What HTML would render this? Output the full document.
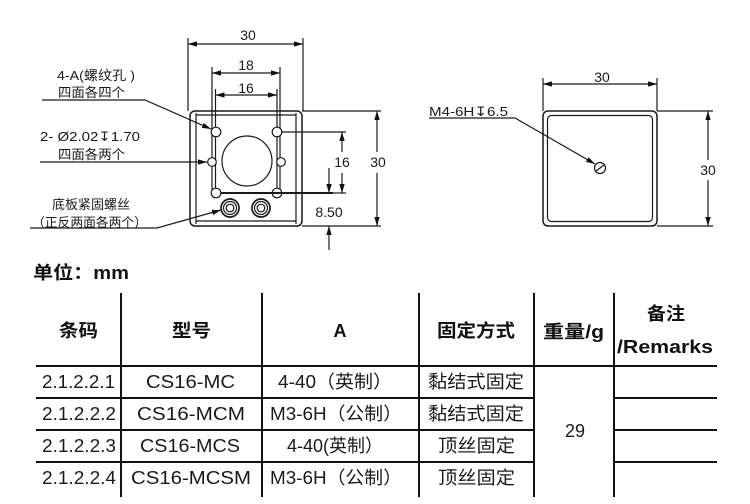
<!DOCTYPE html>
<html><head><meta charset="utf-8">
<style>
html,body{margin:0;padding:0;background:#fff;}
svg{display:block;}
.d{font-family:"Liberation Sans","Noto Sans CJK SC",sans-serif;font-size:13px;fill:#1a1a1a;}
.n{font-family:"Liberation Sans","Noto Sans CJK SC",sans-serif;font-size:14px;fill:#1a1a1a;}
.t{font-family:"Liberation Sans","Noto Sans CJK SC",sans-serif;font-size:18px;fill:#1a1a1a;}
.b{font-family:"Liberation Sans","Noto Sans CJK SC",sans-serif;font-size:18px;font-weight:bold;fill:#111;}
</style></head>
<body>
<svg width="750" height="504" viewBox="0 0 750 504" xmlns="http://www.w3.org/2000/svg">
<defs>
<marker id="a" viewBox="0 0 10 6" refX="10" refY="3" markerWidth="9" markerHeight="5.4" markerUnits="userSpaceOnUse" orient="auto-start-reverse">
<path d="M0,0L10,3L0,6z" fill="#111"/>
</marker>
</defs>
<rect width="750" height="504" fill="#fff"/>

<!-- LEFT VIEW -->
<g stroke="#1a1a1a" fill="none" stroke-width="1.2">
  <rect x="190" y="111" width="112" height="115" rx="5" stroke-width="1.5"/>
  <line x1="196" y1="113" x2="196" y2="224"/>
  <line x1="296" y1="113" x2="296" y2="224"/>
  <line x1="196" y1="115" x2="296" y2="115"/>
  <line x1="196" y1="221" x2="296" y2="221"/>
  <line x1="188" y1="38" x2="188" y2="111"/>
  <line x1="303" y1="38" x2="303" y2="111"/>
  <line x1="212" y1="67" x2="212" y2="190"/>
  <line x1="280" y1="67" x2="280" y2="190"/>
  <line x1="215.5" y1="89" x2="215.5" y2="190"/>
  <line x1="277" y1="89" x2="277" y2="190"/>
  <line x1="188" y1="44" x2="303" y2="44" marker-start="url(#a)" marker-end="url(#a)"/>
  <line x1="212" y1="73" x2="280" y2="73" marker-start="url(#a)" marker-end="url(#a)"/>
  <line x1="215.5" y1="95" x2="277" y2="95" marker-start="url(#a)" marker-end="url(#a)"/>
  <circle cx="216" cy="132" r="4.8" fill="#fff"/>
  <circle cx="277" cy="132" r="4.8" fill="#fff"/>
  <circle cx="212" cy="162" r="4.3" fill="#fff"/>
  <circle cx="281" cy="162" r="4.3" fill="#fff"/>
  <circle cx="216" cy="193" r="4.8" fill="#fff"/>
  <circle cx="277" cy="193" r="4.8" fill="#fff"/>
  <circle cx="247" cy="161" r="25"/>
  <circle cx="230" cy="208" r="9" stroke-width="1.7"/>
  <circle cx="230" cy="208" r="6.5"/>
  <circle cx="230" cy="208" r="3.8"/>
  <circle cx="261" cy="208" r="9" stroke-width="1.7"/>
  <circle cx="261" cy="208" r="6.5"/>
  <circle cx="261" cy="208" r="3.8"/>
  <line x1="281" y1="132" x2="346" y2="132"/>
  <line x1="221" y1="193" x2="333" y2="193" stroke-width="2"/>
  <line x1="333" y1="193" x2="346" y2="193"/>
  <line x1="302" y1="111" x2="381" y2="111"/>
  <line x1="302" y1="226" x2="381" y2="226"/>
  <line x1="342" y1="152" x2="342" y2="132" marker-end="url(#a)"/>
  <line x1="342" y1="173" x2="342" y2="193" marker-end="url(#a)"/>
  <line x1="377" y1="152" x2="377" y2="111" marker-end="url(#a)"/>
  <line x1="377" y1="173" x2="377" y2="226" marker-end="url(#a)"/>
  <line x1="329" y1="168" x2="329" y2="193" marker-end="url(#a)"/>
  <line x1="329" y1="250" x2="329" y2="226" marker-end="url(#a)"/>
  <polyline points="42,100 145,100 211,129" marker-end="url(#a)"/>
  <line x1="40" y1="162" x2="207" y2="162" marker-end="url(#a)"/>
  <polyline points="30,228 157,228 221,210" marker-end="url(#a)"/>
</g>
<g class="n">
  <text x="248" y="40" text-anchor="middle">30</text>
  <text x="246" y="70" text-anchor="middle">18</text>
  <text x="246" y="93" text-anchor="middle">16</text>
  <text x="342" y="167" text-anchor="middle">16</text>
  <text x="378" y="167" text-anchor="middle">30</text>
  <text x="329" y="217" text-anchor="middle">8.50</text>
</g>
<g class="d">
  <text x="57" y="80" textLength="78" lengthAdjust="spacingAndGlyphs">4-A(螺纹孔 )</text>
  <text x="58" y="97" textLength="67" lengthAdjust="spacingAndGlyphs">四面各四个</text>
  <text x="40" y="141" textLength="100" lengthAdjust="spacingAndGlyphs">2- Ø2.02↧1.70</text>
  <text x="58" y="159" textLength="67" lengthAdjust="spacingAndGlyphs">四面各两个</text>
  <text x="52" y="209" textLength="78" lengthAdjust="spacingAndGlyphs">底板紧固螺丝</text>
  <text x="32" y="227" textLength="115" lengthAdjust="spacingAndGlyphs">（正反两面各两个）</text>
</g>

<!-- RIGHT VIEW -->
<g stroke="#1a1a1a" fill="none" stroke-width="1.2">
  <rect x="543" y="111" width="114" height="115" rx="5" stroke-width="1.5"/>
  <rect x="547.5" y="115.5" width="105" height="106" rx="4"/>
  <line x1="543" y1="78" x2="543" y2="111"/>
  <line x1="657" y1="78" x2="657" y2="111"/>
  <line x1="543" y1="84" x2="657" y2="84" marker-start="url(#a)" marker-end="url(#a)"/>
  <line x1="657" y1="111" x2="713" y2="111"/>
  <line x1="657" y1="226" x2="713" y2="226"/>
  <line x1="708" y1="160" x2="708" y2="111" marker-end="url(#a)"/>
  <line x1="708" y1="180" x2="708" y2="226" marker-end="url(#a)"/>
  <circle cx="600" cy="168" r="5.5" fill="#fff"/>
  <line x1="596" y1="171" x2="604" y2="165"/>
  <polyline points="429,118 515,118 595,164" marker-end="url(#a)"/>
</g>
<g class="n">
  <text x="602" y="82" text-anchor="middle">30</text>
  <text x="708" y="175" text-anchor="middle">30</text>
</g>
<text class="d" x="429" y="116" textLength="79" lengthAdjust="spacingAndGlyphs">M4-6H↧6.5</text>

<!-- UNIT -->
<text class="b" x="33" y="279" textLength="96" lengthAdjust="spacingAndGlyphs">单位：mm</text>

<!-- TABLE -->
<g stroke="#111" stroke-width="2">
  <line x1="121" y1="293" x2="121" y2="497"/>
  <line x1="262" y1="293" x2="262" y2="497"/>
  <line x1="419" y1="293" x2="419" y2="497"/>
  <line x1="534" y1="293" x2="534" y2="497"/>
  <line x1="614" y1="293" x2="614" y2="497"/>
  <line x1="36" y1="366" x2="717" y2="366"/>
  <line x1="36" y1="398" x2="534" y2="398"/>
  <line x1="36" y1="430" x2="534" y2="430"/>
  <line x1="36" y1="462" x2="534" y2="462"/>
  <line x1="614" y1="398" x2="717" y2="398"/>
  <line x1="614" y1="430" x2="717" y2="430"/>
  <line x1="614" y1="462" x2="717" y2="462"/>
</g>
<g class="b">
  <text x="59" y="337" textLength="39" lengthAdjust="spacingAndGlyphs">条码</text>
  <text x="172" y="337" textLength="39" lengthAdjust="spacingAndGlyphs">型号</text>
  <text x="340" y="337" text-anchor="middle">A</text>
  <text x="437" y="337" textLength="78" lengthAdjust="spacingAndGlyphs">固定方式</text>
  <text x="543" y="338" textLength="61" lengthAdjust="spacingAndGlyphs">重量/g</text>
  <text x="647" y="320" textLength="38" lengthAdjust="spacingAndGlyphs">备注</text>
  <text x="617" y="353" textLength="96" lengthAdjust="spacingAndGlyphs">/Remarks</text>
</g>
<g class="t">
  <text x="42" y="388" textLength="73" lengthAdjust="spacingAndGlyphs">2.1.2.2.1</text>
  <text x="146" y="388" textLength="89" lengthAdjust="spacingAndGlyphs">CS16-MC</text>
  <text x="278" y="388" textLength="114" lengthAdjust="spacingAndGlyphs">4-40（英制）</text>
  <text x="428" y="388" textLength="96" lengthAdjust="spacingAndGlyphs">黏结式固定</text>

  <text x="42" y="420" textLength="74" lengthAdjust="spacingAndGlyphs">2.1.2.2.2</text>
  <text x="137" y="420" textLength="108" lengthAdjust="spacingAndGlyphs">CS16-MCM</text>
  <text x="270" y="420" textLength="132" lengthAdjust="spacingAndGlyphs">M3-6H（公制）</text>
  <text x="428" y="420" textLength="96" lengthAdjust="spacingAndGlyphs">黏结式固定</text>

  <text x="42" y="452" textLength="74" lengthAdjust="spacingAndGlyphs">2.1.2.2.3</text>
  <text x="140" y="452" textLength="100" lengthAdjust="spacingAndGlyphs">CS16-MCS</text>
  <text x="287" y="452" textLength="96" lengthAdjust="spacingAndGlyphs">4-40(英制）</text>
  <text x="438" y="452" textLength="77" lengthAdjust="spacingAndGlyphs">顶丝固定</text>

  <text x="42" y="484" textLength="74" lengthAdjust="spacingAndGlyphs">2.1.2.2.4</text>
  <text x="131" y="484" textLength="120" lengthAdjust="spacingAndGlyphs">CS16-MCSM</text>
  <text x="270" y="484" textLength="132" lengthAdjust="spacingAndGlyphs">M3-6H（公制）</text>
  <text x="438" y="484" textLength="77" lengthAdjust="spacingAndGlyphs">顶丝固定</text>

  <text x="575" y="437" text-anchor="middle">29</text>
</g>
</svg>
</body></html>
